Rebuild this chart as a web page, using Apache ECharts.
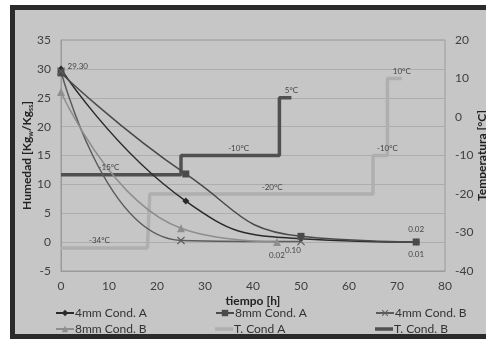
<!DOCTYPE html>
<html>
<head>
<meta charset="utf-8">
<script src="https://cdn.jsdelivr.net/npm/echarts@6/dist/echarts.min.js"></script>
<style>
  html, body { margin: 0; padding: 0; background: #fff; }
  #chart { width: 486px; height: 339px; }
</style>
</head>
<body>
<div id="chart"></div>
<script>
// tiempo [h] y humedad [Kg w / Kg ss]
const h4A = [0, 26, 50, 74];
const hum4A = [30.0, 7.1, 0.6, 0.01];
const h8A = [0, 26, 50, 74];
const hum8A = [29.3, 11.8, 1.0, 0.02];
const h4B = [0, 25, 50];
const hum4B = [29.6, 0.3, 0.1];
const h8B = [0, 25, 45];
const hum8B = [26.0, 2.4, 0.02];
// temperatura [°C]
const hTA = [0, 8, 18, 18.5, 44, 65, 65, 68, 68, 71];
const tempA = [-34, -34, -34, -20, -20, -20, -10, -10, 10, 10];
const hTB = [0, 10, 25, 25, 37, 45.5, 45.5, 48];
const tempB = [-15, -15, -15, -10, -10, -10, 5, 5];
// puntos de temperatura con etiqueta
const labTA = [1, 4, 7, 9];
const labTB = [1, 4, 7];

const xTicks = [0, 80, 10];
const humTicks = [-5, 35, 5];
const tempTicks = [-40, 20, 10];

const font = "Lato, 'Open Sans', sans-serif";

// puntos con etiquetas en algunos indices
function pts(xs, ys, labels) {
  return xs.map(function (x, i) {
    const item = { value: [x, ys[i]] };
    if (labels && labels[i]) {
      item.label = Object.assign({
        show: true, fontSize: 8, color: '#444', fontFamily: font,
        formatter: function (p) { return p.value[1].toFixed(2); }
      }, labels[i]);
    }
    return item;
  });
}
function tempLabels(xs, ys, idx) {
  return {
    symbol: 'circle', symbolSize: 0, silent: true,
    label: {
      show: true, position: 'top', distance: 3, fontSize: 8, color: '#444', fontFamily: font,
      formatter: function (p) { return p.data.coord[1] + '°C'; }
    },
    data: idx.map(function (i) { return { coord: [xs[i], ys[i]] }; })
  };
}

const xMark = 'path://M0,1L1,0L5,4L9,0L10,1L6,5L10,9L9,10L5,6L1,10L0,9L4,5Z';
const barIcon = 'path://M0,0H18V3.5H0Z';

var myChart = echarts.init(document.getElementById('chart'));

function legendAt(name, left, top, bar) {
  return {
    data: [bar ? { name: name, icon: barIcon } : name],
    left: left, top: top, itemWidth: 18, itemHeight: 8, itemGap: 0, symbolKeepAspect: true,
    textStyle: { fontSize: 12, color: '#333', fontFamily: font, padding: [0, 0, 0, -4] }
  };
}

myChart.setOption({
  animation: false,
  graphic: [{
    type: 'rect', z: -100, silent: true,
    shape: { x: 12.5, y: 7.5, width: 490, height: 329 },
    style: { fill: '#c6c6c6', stroke: '#2b2b2b', lineWidth: 5 }
  }],
  legend: [
    legendAt('4mm Cond. A', 50, 302),
    legendAt('8mm Cond. A', 210, 302),
    legendAt('4mm Cond. B', 370, 302),
    legendAt('8mm Cond. B', 50, 318),
    legendAt('T. Cond A', 210, 318, true),
    legendAt('T. Cond. B', 370, 318, true)
  ],
  grid: {
    left: 61, right: 41, top: 40, bottom: 68, containLabel: false, outerBoundsMode: 'none',
    show: true, borderColor: '#9a9a9a', borderWidth: 1
  },
  xAxis: {
    type: 'value', min: xTicks[0], max: xTicks[1], interval: xTicks[2],
    name: 'tiempo [h]', nameLocation: 'middle', nameGap: 24, nameMoveOverlap: false,
    nameTextStyle: { fontSize: 12, fontWeight: 'bold', color: '#222', fontFamily: font },
    axisLine: { onZero: false, lineStyle: { color: '#9a9a9a' } },
    axisTick: { show: false },
    axisLabel: { fontSize: 12, color: '#404040', fontFamily: font, margin: 9 },
    splitLine: { show: false }
  },
  yAxis: [{
    type: 'value', min: humTicks[0], max: humTicks[1], interval: humTicks[2],
    name: 'Humedad [Kg{sub|w}/Kg{sub|ss}]', nameLocation: 'middle', nameGap: 27, nameMoveOverlap: false,
    nameTextStyle: {
      fontSize: 12, fontWeight: 'bold', color: '#222', fontFamily: font,
      rich: { sub: { fontSize: 7, fontWeight: 'bold', color: '#222', fontFamily: font, verticalAlign: 'bottom', padding: [6, 0, 0, 0] } }
    },
    axisLine: { show: true, onZero: false, lineStyle: { color: '#9a9a9a' } },
    axisTick: { show: false },
    axisLabel: { fontSize: 12, color: '#404040', fontFamily: font, margin: 10 },
    splitLine: { show: true, lineStyle: { color: '#adadad', width: 1 } }
  }, {
    type: 'value', position: 'right', min: tempTicks[0], max: tempTicks[1], interval: tempTicks[2],
    name: 'Temperatura [°C]', nameLocation: 'middle', nameGap: 31, nameRotate: 90, nameMoveOverlap: false,
    nameTextStyle: { fontSize: 12, fontWeight: 'bold', color: '#222', fontFamily: font },
    axisLine: { show: false },
    axisTick: { show: false },
    axisLabel: { fontSize: 12, color: '#404040', fontFamily: font, margin: 10 },
    splitLine: { show: false }
  }],
  series: [{
    name: '4mm Cond. A', type: 'line', smooth: 0.5,
    data: pts(h4A, hum4A, { 3: { position: 'bottom' } }),
    symbol: 'diamond', symbolSize: 7,
    lineStyle: { color: '#2a2a2a', width: 1.5 }, itemStyle: { color: '#2a2a2a' }
  }, {
    name: '8mm Cond. A', type: 'line', smooth: 0.5, z: 3,
    data: pts(h8A, hum8A, { 0: { position: 'right', offset: [-2, -6] }, 3: { position: 'top' } }),
    symbol: 'rect', symbolSize: 7,
    lineStyle: { color: '#4a4a4a', width: 1.5 }, itemStyle: { color: '#4a4a4a' }
  }, {
    name: '4mm Cond. B', type: 'line', smooth: 0.5,
    data: pts(h4B, hum4B, { 2: { position: 'bottom', offset: [-8, -4] } }),
    symbol: xMark, symbolSize: 8,
    lineStyle: { color: '#5c5c5c', width: 1.5 }, itemStyle: { color: '#5c5c5c' }
  }, {
    name: '8mm Cond. B', type: 'line', smooth: 0.5,
    data: pts(h8B, hum8B, { 2: { position: 'bottom' } }),
    symbol: 'triangle', symbolSize: 8,
    lineStyle: { color: '#8e8e8e', width: 1.5 }, itemStyle: { color: '#8e8e8e' }
  }, {
    name: 'T. Cond A', type: 'line', yAxisIndex: 1, z: 1,
    data: pts(hTA, tempA),
    symbol: 'none',
    lineStyle: { color: '#afafaf', width: 3.5 }, itemStyle: { color: '#afafaf' },
    markPoint: tempLabels(hTA, tempA, labTA)
  }, {
    name: 'T. Cond. B', type: 'line', yAxisIndex: 1, z: 1,
    data: pts(hTB, tempB),
    symbol: 'none',
    lineStyle: { color: '#505050', width: 3.5 }, itemStyle: { color: '#505050' },
    markPoint: tempLabels(hTB, tempB, labTB)
  }]
});
</script>
</body>
</html>
